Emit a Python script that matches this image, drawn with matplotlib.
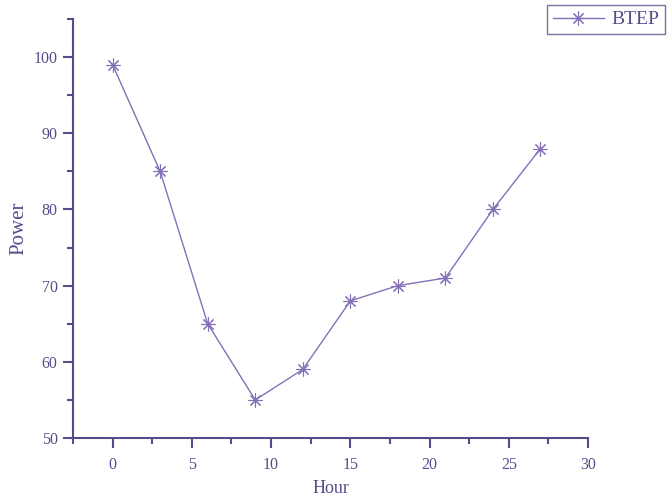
import matplotlib.pyplot as plt
from matplotlib.ticker import MultipleLocator

hours = [0, 3, 6, 9, 12, 15, 18, 21, 24, 27]
power = [99, 85, 65, 55, 59, 68, 70, 71, 80, 88]

ink = '#5b4a8b'
line_col = '#8470b8'

plt.rcParams['font.family'] = ['Liberation Serif', 'DejaVu Serif']

fig = plt.figure(figsize=(6.67, 4.96), dpi=100)
ax = fig.add_axes([0.1094, 0.1169, 0.7722, 0.8448])

ax.plot(hours, power, color=line_col, lw=1.0, marker=(8, 2, 0),
        markersize=10, markeredgewidth=0.8, markeredgecolor=line_col,
        label='BTEP')

ax.set_xlim(-2.5, 30)
ax.set_ylim(50, 105)
ax.xaxis.set_major_locator(MultipleLocator(5))
ax.xaxis.set_minor_locator(MultipleLocator(2.5))
ax.yaxis.set_major_locator(MultipleLocator(10))
ax.yaxis.set_minor_locator(MultipleLocator(5))

for s in ['top', 'right']:
    ax.spines[s].set_visible(False)
for s in ['left', 'bottom']:
    ax.spines[s].set_color(ink)
    ax.spines[s].set_linewidth(1.5)

ax.tick_params(which='major', direction='out', length=7, width=1.5,
               colors=ink, labelsize=11.5)
ax.tick_params(axis='x', which='major', pad=7)
ax.tick_params(axis='y', which='major', pad=4)
ax.tick_params(which='minor', direction='out', length=4, width=1.5, colors=ink)

ax.set_xlabel('Hour', fontsize=13, color=ink, labelpad=5)
ax.set_ylabel('Power', fontsize=15, color=ink, labelpad=4)

leg = ax.legend(loc='upper right', bbox_to_anchor=(0.997, 0.99),
                bbox_transform=fig.transFigure, fontsize=14,
                frameon=True, fancybox=False, borderpad=0.3,
                handlelength=2.6, handletextpad=0.4, borderaxespad=0.0)
leg.get_frame().set_edgecolor(ink)
leg.get_frame().set_linewidth(1.0)
for t in leg.get_texts():
    t.set_color(ink)

fig.savefig('out.png', dpi=100)
